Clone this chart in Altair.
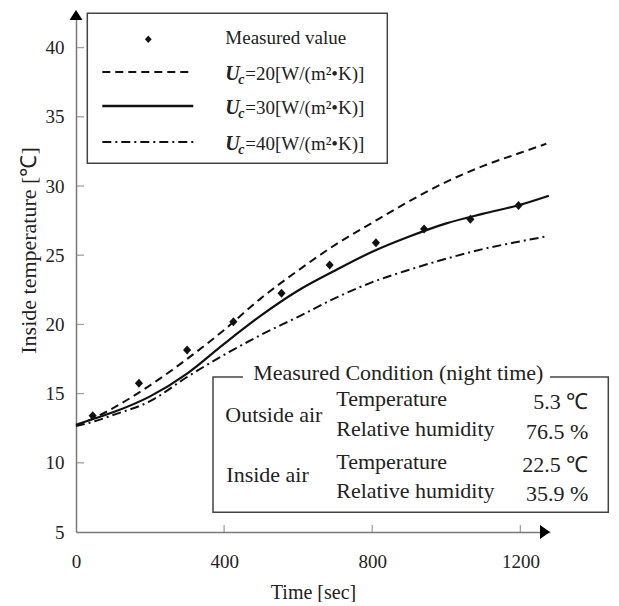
import altair as alt
import pandas as pd

# ---------------- data ----------------
meas_t = [45, 170, 300, 425, 555, 685, 810, 940, 1065, 1195]
meas_temp = [13.4, 15.75, 18.15, 20.2, 22.25, 24.3, 25.9, 26.9, 27.6, 28.6]

u20_t = [0, 50, 100, 200, 300, 400, 500, 600, 700, 800, 900, 1000, 1100, 1200, 1270]
u20_temp = [12.7, 13.25, 13.95, 15.6, 17.5, 19.6, 21.9, 23.9, 25.75, 27.35, 28.9, 30.3, 31.45, 32.4, 33.05]

u30_t = [0, 50, 100, 200, 300, 400, 500, 600, 700, 800, 900, 1000, 1100, 1200, 1277]
u30_temp = [12.75, 13.2, 13.65, 14.8, 16.45, 18.6, 20.65, 22.45, 23.9, 25.25, 26.35, 27.3, 28.0, 28.65, 29.3]

u40_t = [0, 50, 100, 200, 300, 400, 500, 600, 700, 800, 900, 1000, 1100, 1200, 1273]
u40_temp = [12.65, 13.0, 13.45, 14.45, 16.2, 17.8, 19.25, 20.55, 21.9, 23.05, 23.95, 24.75, 25.45, 26.0, 26.37]

x_ticks = [0, 400, 800, 1200]
y_ticks = [5, 10, 15, 20, 25, 30, 35, 40]
x_inner_ticks = [400, 800, 1200]
y_inner_ticks = [10, 15, 20, 25, 30, 35, 40]

legend_labels = ["Measured value", "=20[W/(m²•K)]", "=30[W/(m²•K)]", "=40[W/(m²•K)]"]
uc_main, uc_sub = "U", "c"
cond_title = "Measured Condition (night time)"
cond_groups = ["Outside air", "Inside air"]
cond_items = ["Temperature", "Relative humidity", "Temperature", "Relative humidity"]
cond_values = ["5.3 ℃", "76.5 %", "22.5 ℃", "35.9 %"]

x_title = "Time [sec]"
y_title = "Inside temperature [℃]"

# ---------------- style / layout ----------------
FONT = "Liberation Serif"
INK = "#111111"
TXT = "#222222"
AX = "#7a7a7a"
W, H = 474, 519
X_MAX, Y_MIN, Y_MAX = 1280, 5, 42.5
DASH = [8, 5]
DASHDOT = [9, 4, 2, 4]

xs = alt.Scale(domain=[0, X_MAX], nice=False, zero=False)
ys = alt.Scale(domain=[Y_MIN, Y_MAX], nice=False, zero=False)

x_axis = alt.Axis(values=x_ticks, format="d", ticks=False, tickSize=0, grid=False,
                  domainColor=AX, domainWidth=1.5,
                  labelFont=FONT, labelFontSize=19, labelColor=TXT, labelPadding=20,
                  labelFlush=False, labelOverlap=False,
                  title=x_title, titleFont=FONT, titleFontSize=20, titleFontWeight="normal",
                  titleColor=TXT, titleY=60, titleBaseline="middle")
y_axis = alt.Axis(values=y_ticks, format="d", ticks=False, tickSize=0, grid=False,
                  domainColor=AX, domainWidth=1.5,
                  labelFont=FONT, labelFontSize=19, labelColor=TXT, labelPadding=12,
                  labelFlush=False, labelOverlap=False,
                  title=y_title, titleFont=FONT, titleFontSize=22, titleFontWeight="normal",
                  titleColor=TXT, titleAngle=270, titleX=-48, titleY=237,
                  titleAlign="center", titleBaseline="middle")

one = pd.DataFrame({"k": [0]})


def curve(t, v, dash, width):
    df = pd.DataFrame({"t": t, "temp": v})
    kw = dict(color=INK, strokeWidth=width, interpolate="monotone")
    if dash:
        kw["strokeDash"] = dash
    return alt.Chart(df).mark_line(**kw).encode(
        x=alt.X("t:Q", scale=xs, axis=x_axis),
        y=alt.Y("temp:Q", scale=ys, axis=y_axis),
    )


def txt(s, x, y, size, align="left", weight="normal", style="normal", color=TXT):
    return alt.Chart(one).mark_text(
        text=s, align=align, baseline="alphabetic", font=FONT, fontSize=size,
        fontWeight=weight, fontStyle=style, color=color,
    ).encode(x=alt.value(x), y=alt.value(y))


def box(x1, x2, y1, y2, stroke="#444444", sw=1.5):
    kw = dict(fill="white")
    if stroke:
        kw.update(stroke=stroke, strokeWidth=sw)
    else:
        kw.update(strokeWidth=0)
    return alt.Chart(one).mark_rect(**kw).encode(
        x=alt.value(x1), x2=alt.value(x2), y=alt.value(y1), y2=alt.value(y2))


def hline(x1, x2, y, dash, width):
    kw = dict(color=INK, strokeWidth=width)
    if dash:
        kw["strokeDash"] = dash
    return alt.Chart(one).mark_rule(**kw).encode(
        x=alt.value(x1), x2=alt.value(x2), y=alt.value(y))


layers = []
layers.append(curve(u20_t, u20_temp, DASH, 2.0))
layers.append(curve(u30_t, u30_temp, None, 2.2))
layers.append(curve(u40_t, u40_temp, DASHDOT, 2.0))

# measured points
pts = pd.DataFrame({"t": meas_t, "temp": meas_temp})
layers.append(alt.Chart(pts).mark_point(
    shape="M 0 -1 L 0.9 0 L 0 1 L -0.9 0 Z", size=81, filled=True, color=INK, opacity=1
).encode(x=alt.X("t:Q", scale=xs, axis=x_axis), y=alt.Y("temp:Q", scale=ys, axis=y_axis)))

# inward ticks
layers.append(alt.Chart(pd.DataFrame({"t": x_inner_ticks})).mark_tick(
    orient="vertical", size=7, thickness=1.3, color=AX, yOffset=-3.5
).encode(x=alt.X("t:Q", scale=xs, axis=x_axis), y=alt.datum(Y_MIN)))
layers.append(alt.Chart(pd.DataFrame({"temp": y_inner_ticks})).mark_tick(
    orient="horizontal", size=8, thickness=1.3, color=AX, xOffset=4
).encode(y=alt.Y("temp:Q", scale=ys, axis=y_axis), x=alt.datum(0)))

# axis arrows
layers.append(alt.Chart(one).mark_point(
    shape="M -1 -1.4 L 1 0 L -1 1.4 Z", size=100, filled=True, color="#000", opacity=1, xOffset=-5
).encode(x=alt.datum(X_MAX), y=alt.datum(Y_MIN)))
layers.append(alt.Chart(one).mark_point(
    shape="M -1.3 1 L 0 -1 L 1.3 1 Z", size=100, filled=True, color="#000", opacity=1, yOffset=2
).encode(x=alt.datum(0), y=alt.datum(Y_MAX)))

# legend box
layers.append(box(11.3, 311.3, 0.3, 150.3))
layers.append(alt.Chart(one).mark_point(
    shape="M 0 -1 L 0.9 0 L 0 1 L -0.9 0 Z", size=56, filled=True, color=INK, opacity=1
).encode(x=alt.value(72.3), y=alt.value(26.3)))
layers.append(hline(26.3, 117.3, 59, DASH, 2.0))
layers.append(hline(26.3, 117.3, 93, None, 2.4))
layers.append(hline(26.3, 117.3, 129, DASHDOT, 2.0))
layers.append(txt(legend_labels[0], 149.3, 30.6, 19))
for i, yb in enumerate([66.6, 100.6, 136.6]):
    layers.append(txt(uc_main, 149.3, yb, 20, weight="bold", style="italic"))
    layers.append(txt(uc_sub, 162.3, yb + 4, 14, weight="bold", style="italic"))
    layers.append(txt(legend_labels[i + 1], 169.3, yb, 19))

# condition box
layers.append(box(137, 532.3, 364, 499.3))
layers.append(box(167, 474, 356, 371, stroke=None))
layers.append(txt(cond_title, 322.3, 367.3, 22, align="center"))
layers.append(txt(cond_groups[0], 149.3, 409, 22))
layers.append(txt(cond_groups[1], 150.3, 469, 22))
for yb, item, val in zip([393.3, 423.3, 455.6, 485], cond_items, cond_values):
    layers.append(txt(item, 260.3, yb, 22))
    layers.append(txt(val, 512.3, yb + 3, 22, align="right"))

chart = alt.layer(*layers).properties(
    width=W, height=H,
    autosize=alt.AutoSizeParams(type="none"),
    padding={"left": 68, "top": 5, "right": 60, "bottom": 70},
    background="white",
).configure_view(stroke=None)

chart.save("out.html", embed_options={"renderer": "svg", "actions": False})
